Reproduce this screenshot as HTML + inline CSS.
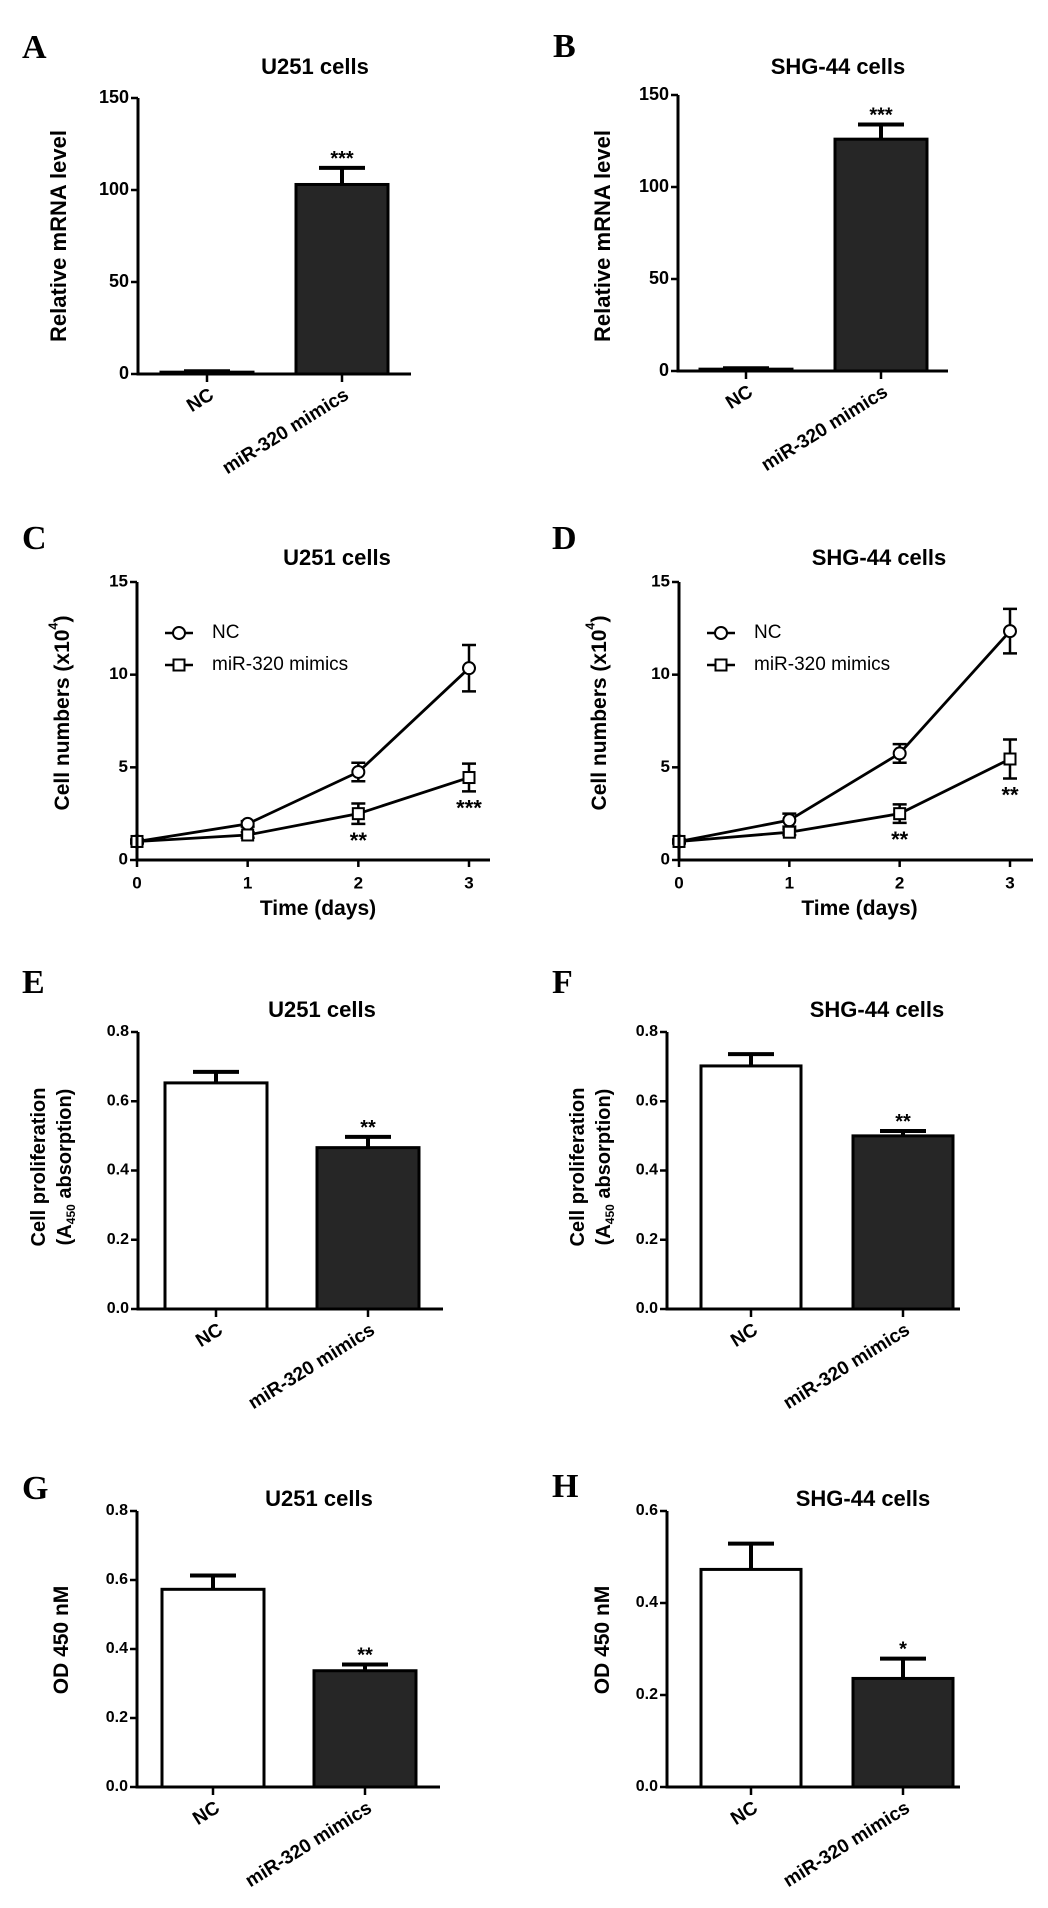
<!DOCTYPE html>
<html><head><meta charset="utf-8">
<style>
html,body{margin:0;padding:0;background:#fff;}
svg{display:block;font-family:"Liberation Sans",Arial,sans-serif;}
</style></head>
<body>
<svg id="fig" width="1048" height="1908" viewBox="0 0 1048 1908" xmlns="http://www.w3.org/2000/svg"></svg>
<script>
// ---- data ----
const barCategories = ["NC", "miR-320 mimics"];
const aValues = [1, 103];
const aErrors = [0.5, 9];
const aStars = ["", "***"];
const bValues = [1, 126];
const bErrors = [0.5, 8];
const bStars = ["", "***"];
const mrnaTicks = [0, 50, 100, 150];

const days = [0, 1, 2, 3];
const dayTicks = [0, 5, 10, 15];
const cNC = [1, 1.95, 4.75, 10.35];
const cNCErr = [0.1, 0.15, 0.5, 1.25];
const cMim = [1, 1.35, 2.5, 4.45];
const cMimErr = [0.1, 0.15, 0.55, 0.75];
const cStars = ["", "", "**", "***"];
const dNC = [1, 2.15, 5.75, 12.35];
const dNCErr = [0.1, 0.35, 0.5, 1.2];
const dMim = [1, 1.5, 2.5, 5.45];
const dMimErr = [0.1, 0.15, 0.5, 1.05];
const dStars = ["", "", "**", "**"];

const eValues = [0.653, 0.466];
const eErrors = [0.032, 0.031];
const eStars = ["", "**"];
const fValues = [0.702, 0.5];
const fErrors = [0.034, 0.014];
const fStars = ["", "**"];
const efTicks = ["0.0", "0.2", "0.4", "0.6", "0.8"];
const gValues = [0.573, 0.337];
const gErrors = [0.04, 0.018];
const gStars = ["", "**"];
const gTicks = ["0.0", "0.2", "0.4", "0.6", "0.8"];
const hValues = [0.473, 0.236];
const hErrors = [0.056, 0.043];
const hStars = ["", "*"];
const hTicks = ["0.0", "0.2", "0.4", "0.6"];

// ---- helpers ----
const NS = "http://www.w3.org/2000/svg";
const svg = document.getElementById("fig");
function mk(tag, attrs, parent) {
  const e = document.createElementNS(NS, tag);
  for (const k in attrs) e.setAttribute(k, attrs[k]);
  (parent || svg).appendChild(e);
  return e;
}
function txt(str, attrs, parent) {
  const e = mk("text", attrs, parent);
  e.textContent = str;
  return e;
}

function panelLetter(letter, x, y) {
  const t = txt(letter, {x: x, y: y, "font-family": "Liberation Serif, serif", "font-weight": "bold", "font-size": 34});
  
  
}
function title(str, cx, y, id) {
  const t = txt(str, {x: cx, y: y, "text-anchor": "middle", "font-weight": "bold", "font-size": 22});
  
  
}
function yTitle(lines, cx, cy, size, id) {
  const g = mk("g", {transform: "translate(" + cx + "," + cy + ") rotate(-90)"});
  
  
  lines.forEach((ln, i) => {
    const t = mk("text", {x: 0, y: (i - (lines.length - 1) / 2) * (size * 1.3), "text-anchor": "middle", "dominant-baseline": "middle", "font-weight": "bold", "font-size": size}, g);
    ln.forEach(part => {
      let a = {};
      if (part.sub) a = {"font-size": size * 0.6, dy: size * 0.3};
      else if (part.sup) a = {"font-size": size * 0.6, dy: -size * 0.4};
      else if (part.after) a = {dy: -size * 0.3};
      else if (part.afterSup) a = {dy: size * 0.4};
      const s = mk("tspan", a, t);
      s.textContent = part.t;
    });
  });
}

function yAxis(g, ax, y0, y1, tickVals, tickLabels, maxV, fs, id) {
  const ax1 = mk("line", {x1: ax, y1: y0 + 1.5, x2: ax, y2: y1, stroke: "#000", "stroke-width": 3}, g);
  
  
  tickVals.forEach((v, i) => {
    const y = y0 - (v / maxV) * (y0 - y1);
    mk("line", {x1: ax - 7, y1: y, x2: ax, y2: y, stroke: "#000", "stroke-width": 2.5}, g);
    const t = txt(tickLabels[i], {x: ax - 9, y: y, "text-anchor": "end", "dominant-baseline": "middle", "font-weight": "bold", "font-size": fs}, g);
    
    
  });
}

function barPanel(cfg) {
  const g = mk("g", {});
  
  
  const sy = v => cfg.y0 - (v / cfg.max) * (cfg.y0 - cfg.y1);
  cfg.values.forEach((v, i) => {
    const cx = cfg.xs[i];
    const top = sy(v);
    const r = mk("rect", {x: cx - cfg.bw / 2, y: top, width: cfg.bw, height: Math.max(cfg.y0 - top, 1), fill: i === 0 ? "#fff" : "#262626", stroke: "#000", "stroke-width": 3}, g);
    
    
    const ct = sy(v + cfg.errors[i]);
    const e = mk("path", {d: "M" + cx + " " + top + "V" + ct + "M" + (cx - 23) + " " + ct + "H" + (cx + 23), stroke: "#000", "stroke-width": 4, fill: "none"}, g);
    
    
    if (cfg.stars[i]) {
      const s = txt(cfg.stars[i], {x: cx, y: ct - 3, "text-anchor": "middle", "font-weight": "bold", "font-size": 20}, g);
      
      
    }
    mk("line", {x1: cx, y1: cfg.y0, x2: cx, y2: cfg.y0 + 8, stroke: "#000", "stroke-width": 2.5}, g);
    const lb = txt(barCategories[i], {x: 0, y: 0, "text-anchor": "end", "font-weight": "bold", "font-size": 19, transform: "translate(" + (cx + 8) + "," + (cfg.y0 + 24) + ") rotate(-32)"}, g);
    
    
  });
  const xa = mk("line", {x1: cfg.ax - 1.5, y1: cfg.y0, x2: cfg.xEnd, y2: cfg.y0, stroke: "#000", "stroke-width": 3}, g);
  
  
  yAxis(g, cfg.ax, cfg.y0, cfg.y1, cfg.tickVals, cfg.tickLabels, cfg.max, cfg.fs, cfg.id);
}

function linePanel(cfg) {
  const g = mk("g", {});
  
  
  const sx = d => cfg.ax + (d / 3) * (cfg.x3 - cfg.ax);
  const sy = v => cfg.y0 - (v / 15) * (cfg.y0 - cfg.y1);
  const series = [[cfg.nc, cfg.ncErr, "circle", "nc"], [cfg.mim, cfg.mimErr, "square", "mimics"]];
  series.forEach(([vals, errs, shape, nm]) => {
    const p = mk("polyline", {points: days.map((d, i) => sx(d) + "," + sy(vals[i])).join(" "), fill: "none", stroke: "#000", "stroke-width": 2.8}, g);
    
    
    days.forEach((d, i) => {
      const x = sx(d), y = sy(vals[i]), hi = sy(vals[i] + errs[i]), lo = sy(vals[i] - errs[i]);
      const e = mk("path", {d: "M" + x + " " + hi + "V" + lo + "M" + (x - 7) + " " + hi + "H" + (x + 7) + "M" + (x - 7) + " " + lo + "H" + (x + 7), stroke: "#000", "stroke-width": 2.5, fill: "none"}, g);
      
      
      let m;
      if (shape === "circle") m = mk("circle", {cx: x, cy: y, r: 6, fill: "#fff", stroke: "#000", "stroke-width": 2}, g);
      else m = mk("rect", {x: x - 5.5, y: y - 5.5, width: 11, height: 11, fill: "#fff", stroke: "#000", "stroke-width": 2}, g);
      
      
    });
  });
  days.forEach((d, i) => {
    if (cfg.stars[i]) {
      const s = txt(cfg.stars[i], {x: sx(d), y: sy(cfg.mim[i] - cfg.mimErr[i]) + 24, "text-anchor": "middle", "font-weight": "bold", "font-size": 22}, g);
      
      
    }
    mk("line", {x1: sx(d), y1: cfg.y0, x2: sx(d), y2: cfg.y0 + 7, stroke: "#000", "stroke-width": 2.5}, g);
    const t = txt(String(d), {x: sx(d), y: cfg.y0 + 24, "text-anchor": "middle", "dominant-baseline": "middle", "font-weight": "bold", "font-size": 17}, g);
    
    
  });
  const xa = mk("line", {x1: cfg.ax - 1.5, y1: cfg.y0, x2: cfg.xEnd, y2: cfg.y0, stroke: "#000", "stroke-width": 3}, g);
  
  
  yAxis(g, cfg.ax, cfg.y0, cfg.y1, dayTicks, dayTicks.map(String), 15, 17, cfg.id);
  const xt = txt("Time (days)", {x: (cfg.ax + cfg.x3) / 2 + 15, y: cfg.y0 + 55, "text-anchor": "middle", "font-weight": "bold", "font-size": 21}, g);
  
  
  const lg = mk("g", {}, g);
  
  
  const lx = cfg.ax + 42, ly = cfg.y1 + 51;
  [["NC", "circle"], ["miR-320 mimics", "square"]].forEach(([lab, shape], i) => {
    const y = ly + i * 32;
    mk("line", {x1: lx - 14, y1: y, x2: lx + 14, y2: y, stroke: "#000", "stroke-width": 2.5}, lg);
    if (shape === "circle") mk("circle", {cx: lx, cy: y, r: 6, fill: "#fff", stroke: "#000", "stroke-width": 2}, lg);
    else mk("rect", {x: lx - 5.5, y: y - 5.5, width: 11, height: 11, fill: "#fff", stroke: "#000", "stroke-width": 2}, lg);
    const t = txt(lab, {x: lx + 33, y: y, "dominant-baseline": "middle", "font-size": 19}, lg);
    
    
  });
}

// ---- row 1 ----
panelLetter("A", 22, 58);
title("U251 cells", 315, 74, "a");
yTitle([[{t: "Relative mRNA level"}]], 60, 236, 22, "a");
barPanel({id: "a", values: aValues, errors: aErrors, stars: aStars, xs: [207, 342], bw: 92, ax: 138, y0: 374, y1: 98, max: 150, xEnd: 411, tickVals: mrnaTicks, tickLabels: mrnaTicks.map(String), fs: 18});

panelLetter("B", 553, 57);
title("SHG-44 cells", 838, 74, "b");
yTitle([[{t: "Relative mRNA level"}]], 604, 236, 22, "b");
barPanel({id: "b", values: bValues, errors: bErrors, stars: bStars, xs: [746, 881], bw: 92, ax: 678, y0: 371, y1: 95, max: 150, xEnd: 948, tickVals: mrnaTicks, tickLabels: mrnaTicks.map(String), fs: 18});

// ---- row 2 ----
panelLetter("C", 22, 549);
title("U251 cells", 337, 565, "c");
yTitle([[{t: "Cell numbers (x10"}, {t: "4", sup: true}, {t: ")", afterSup: true}]], 63, 713, 21, "c");
linePanel({id: "c", nc: cNC, ncErr: cNCErr, mim: cMim, mimErr: cMimErr, stars: cStars, ax: 137, x3: 469, xEnd: 490, y0: 860, y1: 582});

panelLetter("D", 552, 549);
title("SHG-44 cells", 879, 565, "d");
yTitle([[{t: "Cell numbers (x10"}, {t: "4", sup: true}, {t: ")", afterSup: true}]], 600, 713, 21, "d");
linePanel({id: "d", nc: dNC, ncErr: dNCErr, mim: dMim, mimErr: dMimErr, stars: dStars, ax: 679, x3: 1010, xEnd: 1033, y0: 860, y1: 582});

// ---- row 3 ----
panelLetter("E", 22, 993);
title("U251 cells", 322, 1017, "e");
yTitle([[{t: "Cell proliferation"}], [{t: "(A"}, {t: "450", sub: true}, {t: " absorption)", after: true}]], 53, 1167, 20, "e");
barPanel({id: "e", values: eValues, errors: eErrors, stars: eStars, xs: [216, 368], bw: 102, ax: 138, y0: 1309, y1: 1032, max: 0.8, xEnd: 443, tickVals: [0, 0.2, 0.4, 0.6, 0.8], tickLabels: efTicks, fs: 16});

panelLetter("F", 552, 993);
title("SHG-44 cells", 877, 1017, "f");
yTitle([[{t: "Cell proliferation"}], [{t: "(A"}, {t: "450", sub: true}, {t: " absorption)", after: true}]], 592, 1167, 20, "f");
barPanel({id: "f", values: fValues, errors: fErrors, stars: fStars, xs: [751, 903], bw: 100, ax: 667, y0: 1309, y1: 1032, max: 0.8, xEnd: 960, tickVals: [0, 0.2, 0.4, 0.6, 0.8], tickLabels: efTicks, fs: 16});

// ---- row 4 ----
panelLetter("G", 22, 1499);
title("U251 cells", 319, 1506, "g");
yTitle([[{t: "OD 450 nM"}]], 62, 1640, 21, "g");
barPanel({id: "g", values: gValues, errors: gErrors, stars: gStars, xs: [213, 365], bw: 102, ax: 137, y0: 1787, y1: 1511, max: 0.8, xEnd: 440, tickVals: [0, 0.2, 0.4, 0.6, 0.8], tickLabels: gTicks, fs: 16});

panelLetter("H", 552, 1497);
title("SHG-44 cells", 863, 1506, "h");
yTitle([[{t: "OD 450 nM"}]], 603, 1640, 21, "h");
barPanel({id: "h", values: hValues, errors: hErrors, stars: hStars, xs: [751, 903], bw: 100, ax: 667, y0: 1787, y1: 1511, max: 0.6, xEnd: 960, tickVals: [0, 0.2, 0.4, 0.6], tickLabels: hTicks, fs: 16});
</script>
</body></html>
